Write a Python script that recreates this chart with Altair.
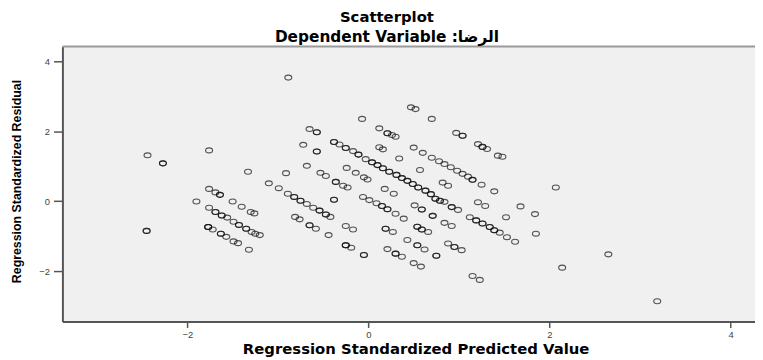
import altair as alt
import pandas as pd

# Regression standardized predicted values (x) and standardized residuals (y),
# read off the reference picture; repeated entries mark overlapping circles.
pred = [
    -2.44, -2.27, -2.27, -2.45, -2.45, -1.76, -0.885,
    -1.76, -1.69, -1.64, -1.64, -1.90, -1.50, -1.40, -1.30, -1.26,
    -1.76, -1.69, -1.69, -1.62, -1.62, -1.56, -1.49, -1.43, -1.43, -1.35, -1.35, -1.29, -1.25, -1.20,
    -1.77, -1.77, -1.77, -1.72, -1.63, -1.63, -1.57, -1.49, -1.44, -1.32,
    -1.33, -0.91, -1.10, -0.99,
    -0.89, -0.82, -0.82, -0.75, -0.75, -0.68, -0.61, -0.54, -0.54, -0.47, -0.47, -0.42,
    -0.81, -0.76, -0.65, -0.65, -0.58, -0.44,
    -0.65, -0.57, -0.57, -0.72, -0.57, -0.57, -0.68, -0.53, -0.47, -0.36, -0.36, -0.28, -0.23,
    -0.24, -0.14, -0.05, -0.01,
    0.47, 0.52, -0.07, 0.70, 0.12, 0.21, 0.21, 0.26, 0.30,
    0.97, 1.04, 1.04, 1.21, 1.26, 1.26, 1.31, 1.43, 1.48,
    -0.38, -0.38, -0.32, -0.25, -0.25, -0.17, -0.11, -0.11, -0.03, 0.04, 0.04, 0.10, 0.10,
    0.16, 0.16, 0.23, 0.23, 0.31, 0.31, 0.37, 0.37, 0.43, 0.43, 0.49, 0.49, 0.55, 0.55,
    0.63, 0.63, 0.69, 0.69, 0.74, 0.74, 0.79, 0.79, 0.84, 0.92, 0.92, 0.99,
    0.12, 0.16, 0.34,
    0.50, 0.60, 0.70, 0.78, 0.84, 0.91, 0.98, 1.04, 1.10, 1.15, 1.15, 1.25, 1.39,
    0.57, 0.82, 0.88, 2.07,
    -0.38, -0.38, -0.06, 0.01, 0.09, 0.15, 0.15, 0.21, 0.21, 0.30, 0.39,
    0.18, 0.28, 0.51, 0.59, 0.59, 0.71, 0.71,
    1.21, 1.29, 1.68, 1.84, 1.52,
    1.12, 1.19, 1.19, 1.26, 1.26, 1.34, 1.34, 1.39, 1.39, 1.45, 1.53, 1.62, 1.85,
    0.84, 0.92, 0.54, 0.54, 0.59, 0.59, 0.66,
    0.88, 0.95, 0.95, 1.03, 0.75, 0.75, 1.15, 1.23,
    0.43, 0.54, 0.54, 0.62,
    -0.25, -0.17, 0.19, 0.19, 0.27,
    -0.25, -0.25, -0.25, -0.19, -0.05, -0.05,
    0.21, 0.30, 0.30, 0.37, 0.50, 0.58,
    2.65, 2.14, 3.19,
]
resid = [
    1.31, 1.08, 1.08, -0.85, -0.85, 1.45, 3.53,
    0.35, 0.25, 0.18, 0.18, -0.01, -0.01, -0.16, -0.31, -0.35,
    -0.19, -0.31, -0.31, -0.41, -0.41, -0.47, -0.59, -0.68, -0.68, -0.79, -0.79, -0.88, -0.93, -0.97,
    -0.74, -0.74, -0.74, -0.81, -0.93, -0.93, -1.02, -1.15, -1.20, -1.39,
    0.84, 0.80, 0.51, 0.37,
    0.21, 0.12, 0.12, 0.01, 0.01, -0.08, -0.19, -0.27, -0.27, -0.38, -0.38, -0.45,
    -0.45, -0.52, -0.69, -0.69, -0.79, -0.97,
    2.06, 1.97, 1.97, 1.61, 1.42, 1.42, 1.01, 0.81, 0.72, 0.55, 0.55, 0.44, 0.39,
    0.95, 0.81, 0.68, 0.62,
    2.68, 2.63, 2.35, 2.35, 2.08, 1.94, 1.94, 1.89, 1.84,
    1.95, 1.87, 1.87, 1.63, 1.55, 1.55, 1.49, 1.30, 1.27,
    1.69, 1.69, 1.62, 1.52, 1.52, 1.43, 1.33, 1.33, 1.20, 1.11, 1.11, 1.03, 1.03,
    0.94, 0.94, 0.84, 0.84, 0.75, 0.75, 0.66, 0.66, 0.58, 0.58, 0.49, 0.49, 0.39, 0.39,
    0.30, 0.30, 0.20, 0.20, 0.07, 0.07, 0.01, 0.01, -0.02, -0.17, -0.17, -0.25,
    1.54, 1.48, 1.22,
    1.53, 1.38, 1.24, 1.14, 1.06, 0.97, 0.87, 0.78, 0.70, 0.61, 0.61, 0.47, 0.28,
    0.89, 0.53, 0.44, 0.39,
    0.04, 0.04, 0.12, 0.03, -0.06, -0.14, -0.14, -0.23, -0.23, -0.36, -0.50,
    0.35, 0.21, -0.12, -0.24, -0.24, -0.42, -0.42,
    -0.03, -0.14, -0.15, -0.37, -0.46,
    -0.46, -0.55, -0.55, -0.64, -0.64, -0.74, -0.74, -0.83, -0.83, -0.90, -1.03, -1.16, -0.93,
    -0.62, -0.71, -0.73, -0.73, -0.81, -0.81, -0.88,
    -1.21, -1.31, -1.31, -1.40, -1.56, -1.56, -2.14, -2.25,
    -1.11, -1.26, -1.26, -1.38,
    -0.71, -0.81, -0.79, -0.79, -0.88,
    -1.26, -1.26, -1.26, -1.33, -1.54, -1.54,
    -1.37, -1.50, -1.50, -1.59, -1.77, -1.87,
    -1.52, -1.90, -2.86,
]

x_ticks = [-2, 0, 2, 4]
y_ticks = [-2, 0, 2, 4]
x_domain = [-3.38, 4.27]
y_domain = [-3.44, 4.42]

df = pd.DataFrame({"pred": pred, "resid": resid})

W, H = 700, 278
ellipse = "M-1,0A1,0.72,0,1,1,1,0A1,0.72,0,1,1,-1,0Z"

points = alt.Chart(df).mark_point(
    shape=ellipse, size=49, filled=False, color="#111", opacity=0.7, strokeWidth=1.15
).encode(
    x=alt.X("pred:Q",
            scale=alt.Scale(domain=x_domain, nice=False, zero=False),
            axis=alt.Axis(values=x_ticks, title="Regression Standardized Predicted Value",
                          titleFont="DejaVu Sans", titleFontSize=15, titleFontWeight="bold",
                          titleColor="#000", titlePadding=3, titleX=357,
                          labelPadding=2, tickSize=6)),
    y=alt.Y("resid:Q",
            scale=alt.Scale(domain=y_domain, nice=False, zero=False),
            axis=alt.Axis(values=y_ticks, title="Regression Standardized Residual",
                          titleFont="Liberation Sans", titleFontSize=12.5,
                          titleFontWeight="bold", titleColor="#000", titlePadding=16,
                          titleY=136, tickSize=9, labelPadding=4)),
)

top_border = alt.Chart(pd.DataFrame({"a": [0]})).mark_rule(color="#9a9a9a", strokeWidth=2).encode(
    x=alt.value(0), x2=alt.value(W), y=alt.value(0)
)

chart = alt.layer(points, top_border).properties(
    width=W, height=H,
    autosize=alt.AutoSizeParams(type="none"),
    padding={"left": 55, "top": 37, "right": 0, "bottom": 37},
    title=alt.TitleParams(
        text="Scatterplot", subtitle="Dependent Variable :الرضا",
        font="DejaVu Sans", fontSize=15, fontWeight="bold", color="#000",
        subtitleFont="DejaVu Sans", subtitleFontSize=15.5, subtitleFontWeight="bold",
        subtitleColor="#000", subtitlePadding=5, anchor="middle", dx=-22, offset=0,
    ),
).configure_view(
    fill="#f0f0f0", stroke=None
).configure_axis(
    grid=False, domainColor="#555", domainWidth=2, tickColor="#555", tickSize=5,
    tickWidth=1.5, labelFont="Liberation Sans", labelFontSize=9.5, labelColor="#444",
    labelPadding=3,
)

chart.save("out.html", embed_options={"renderer": "svg", "actions": False})
